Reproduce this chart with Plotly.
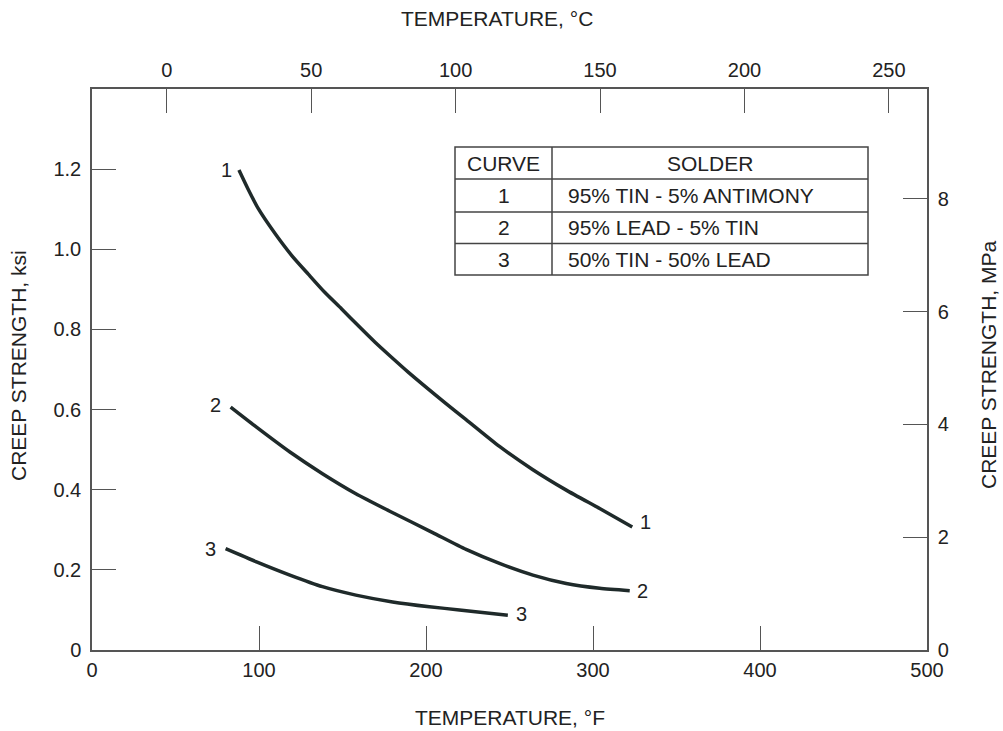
import plotly.graph_objects as go

# ---------------- data ----------------
curve1_F = [88, 93.5, 99.5, 109.5, 119.5, 129.5, 139.5, 149.5, 159.5, 169.5, 179.5, 189.5,
            212, 224, 244, 264, 284, 304, 323.5]
curve1_ksi = [1.198, 1.150, 1.102, 1.040, 0.985, 0.938, 0.892, 0.851, 0.809, 0.768, 0.730, 0.693,
              0.615, 0.575, 0.508, 0.450, 0.399, 0.353, 0.307]

curve2_F = [83, 98.5, 118.5, 138, 158, 178, 204, 224, 244, 264, 284, 304, 322]
curve2_ksi = [0.606, 0.556, 0.494, 0.440, 0.390, 0.347, 0.293, 0.251, 0.216, 0.187, 0.166, 0.154, 0.148]

curve3_F = [80, 98.5, 118.5, 138, 158, 180, 202, 220, 249]
curve3_ksi = [0.253, 0.220, 0.187, 0.158, 0.137, 0.120, 0.108, 0.100, 0.087]

curve_ids = ["1", "2", "3"]
solders = ["95% TIN - 5% ANTIMONY", "95% LEAD - 5% TIN", "50% TIN - 50% LEAD"]

x_ticks_F = [0, 100, 200, 300, 400, 500]
x_ticks_C = [0, 50, 100, 150, 200, 250]
y_ticks_ksi = [0, 0.2, 0.4, 0.6, 0.8, 1.0, 1.2]
y_ticklabels_ksi = ["0", "0.2", "0.4", "0.6", "0.8", "1.0", "1.2"]
y_ticks_MPa = [0, 2, 4, 6, 8]

# ---------------- styling ----------------
W, H = 1003, 731
# plot frame in screen pixels: left 92, right 927, top 89, bottom 650
ML, MT = 92, 89
MR = W - 927
MB = H - 650
LINE = "#1f2a2a"
AX = "#555555"
TXT = "#222222"
FONT = "Liberation Sans, Arial, sans-serif"
FS_TICK = 20
FS_TEXT = 21

def px2paper(px, py):
    return (px - ML) / (W - ML - MR), (H - MB - py) / (H - MT - MB)

def text_at(px, py, txt, xanchor="center", size=FS_TEXT, **kw):
    x, y = px2paper(px, py)
    fig.add_annotation(x=x, y=y, xref="paper", yref="paper", text=txt, showarrow=False,
                       xanchor=xanchor, yanchor="middle",
                       font=dict(size=size, color=TXT, family=FONT), **kw)

fig = go.Figure()
curves = [(curve1_F, curve1_ksi), (curve2_F, curve2_ksi), (curve3_F, curve3_ksi)]
for xs, ys in curves:
    fig.add_trace(go.Scatter(x=xs, y=ys, mode="lines",
                             line=dict(color=LINE, width=3.5, shape="spline", smoothing=0.6),
                             showlegend=False, hoverinfo="skip"))

# invisible trace to activate secondary axes
fig.add_trace(go.Scatter(x=[0], y=[0], xaxis="x2", yaxis="y2", mode="markers",
                         marker=dict(opacity=0), showlegend=False, hoverinfo="skip"))

# curve number labels at start and end of each curve
start_shift = [(-12, 0), (-15, 2), (-15, 0)]
end_shift = [(13, 5), (13, 0), (14, 1)]
for i, (xs, ys) in enumerate(curves):
    fig.add_annotation(x=xs[0], y=ys[0], text=curve_ids[i], showarrow=False,
                       xanchor="center", yanchor="middle",
                       xshift=start_shift[i][0], yshift=start_shift[i][1],
                       font=dict(size=FS_TICK, color=TXT, family=FONT))
    fig.add_annotation(x=xs[-1], y=ys[-1], text=curve_ids[i], showarrow=False,
                       xanchor="center", yanchor="middle",
                       xshift=end_shift[i][0], yshift=end_shift[i][1],
                       font=dict(size=FS_TICK, color=TXT, family=FONT))

# table drawn with shapes + text
tl, tr, tc = 455, 868, 552
rows = [147, 179, 212, 243.5, 275]
x0, y0 = px2paper(tl, rows[0])
x1, y1 = px2paper(tr, rows[-1])
fig.add_shape(type="rect", xref="paper", yref="paper", x0=x0, x1=x1, y0=y1, y1=y0,
              line=dict(color="#444444", width=1.5), fillcolor="white", layer="above")
xc, _ = px2paper(tc, 0)
fig.add_shape(type="line", xref="paper", yref="paper", x0=xc, x1=xc, y0=y1, y1=y0,
              line=dict(color="#444444", width=1.5))
for r in rows[1:-1]:
    _, yr = px2paper(0, r)
    fig.add_shape(type="line", xref="paper", yref="paper", x0=x0, x1=x1, y0=yr, y1=yr,
                  line=dict(color="#444444", width=1.5))

hy = (rows[0] + rows[1]) / 2
text_at((tl + tc) / 2, hy, "CURVE")
text_at((tc + tr) / 2, hy, "SOLDER")
for i in range(3):
    ry = (rows[i + 1] + rows[i + 2]) / 2
    text_at((tl + tc) / 2, ry, curve_ids[i])
    text_at(tc + 14, ry, solders[i], xanchor="left")

# axis titles
text_at(510, 717, "TEMPERATURE, °F")
text_at(497, 18, "TEMPERATURE, °C")
text_at(18, 366, "CREEP STRENGTH, ksi", textangle=-90)
text_at(988, 365, "CREEP STRENGTH, MPa", textangle=-90)

axis_common = dict(showgrid=False, zeroline=False, showline=True, linecolor=AX, linewidth=1.5,
                   ticks="inside", ticklen=24, tickwidth=1.2, tickcolor=AX,
                   tickfont=dict(size=FS_TICK, color=TXT, family=FONT))

fig.update_layout(
    width=W, height=H,
    margin=dict(l=ML, r=MR, t=MT, b=MB, autoexpand=False),
    paper_bgcolor="white", plot_bgcolor="white",
    font=dict(family=FONT, color=TXT),
    xaxis=dict(range=[0, 500], tickvals=x_ticks_F, ticklabelstandoff=1, **axis_common),
    yaxis=dict(range=[0, 1.4], tickvals=y_ticks_ksi, ticktext=y_ticklabels_ksi,
               ticklabelstandoff=5, **axis_common),
    xaxis2=dict(range=[-25.9, 263.2], tickvals=x_ticks_C, overlaying="x", side="top",
                ticklabelstandoff=2, **axis_common),
    yaxis2=dict(range=[0, 9.95], tickvals=y_ticks_MPa, overlaying="y", side="right",
                ticklabelstandoff=5, **axis_common),
)

# remove the default page margin so the figure fills the window exactly
fig.write_html("out.html", config={"displayModeBar": False},
               post_script="document.body.style.margin='0';")
